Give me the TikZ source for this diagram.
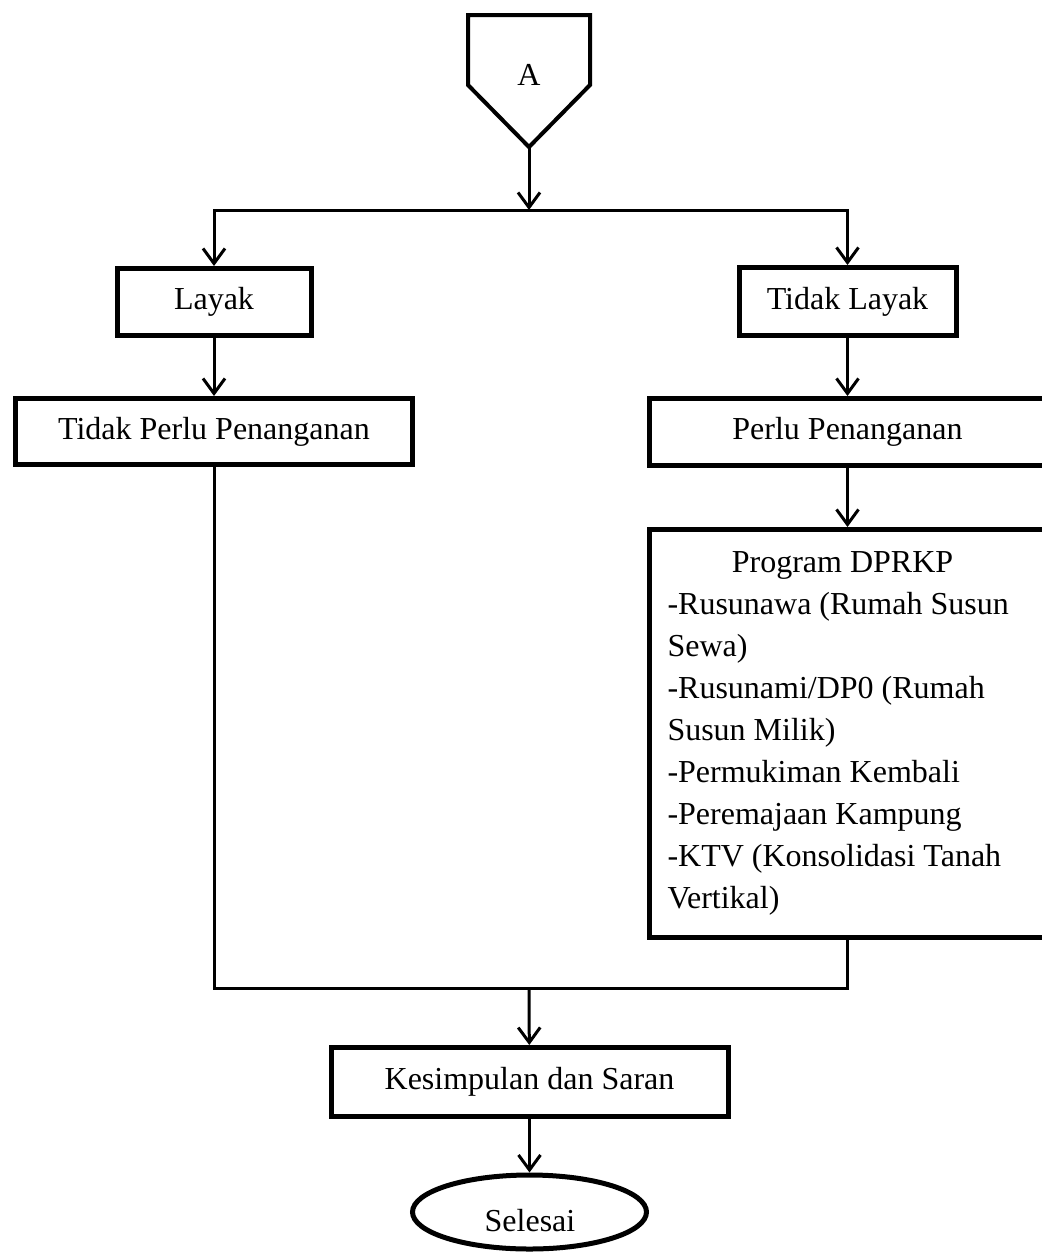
\documentclass[tikz,border=0pt]{standalone}
\usepackage{fontspec}
\setmainfont{Liberation Serif}
\usetikzlibrary{arrows.meta,shapes.geometric}
\begin{document}
\begin{tikzpicture}[x=0.5pt,y=-0.5pt,
  txt/.style={font=\fontsize{16}{21}\selectfont},
  box/.style={draw,line width=2.5pt,rectangle,inner sep=0pt,txt},
  conn/.style={line width=1.5pt},
  arr/.style={conn,-{Straight Barb[length=7.5pt,width=11pt]}},
  term/.style={draw,line width=2.5pt,ellipse,inner sep=0pt,txt}]
\fill[white] (0,0) rectangle (1041,1254);
\useasboundingbox (0,0) rectangle (1041,1254);
% off-page connector A
\draw[line width=2pt] (468,15) -- (590,15) -- (590,85) -- (529,147) -- (468,85) -- cycle;
\node[txt] (A) at (529,75) {A};
\coordinate (Atip) at (529,148);
\coordinate (j1) at (529,210);
\coordinate (j2) at (529,988);
% boxes
\node[box,minimum width=97pt,minimum height=33.5pt] (layak) at (214,302) {Layak};
\node[box,minimum width=108.5pt,minimum height=34pt] (tlayak) at (847.5,301.5) {Tidak Layak};
\node[box,minimum width=198.5pt,minimum height=33pt] (tpp) at (214,431.5) {Tidak Perlu Penanganan};
\node[box,minimum width=198.5pt,minimum height=33.5pt] (pp) at (847.5,432) {Perlu Penanganan};
\node[box,minimum width=198.5pt,minimum height=204pt,text width=180pt,align=flush left] (prog) at (847.5,733.5)
  {\makebox[175pt][c]{Program DPRKP}\\
   -Rusunawa (Rumah Susun\\
   Sewa)\\
   -Rusunami/DP0 (Rumah\\
   Susun Milik)\\
   -Permukiman Kembali\\
   -Peremajaan Kampung\\
   -KTV (Konsolidasi Tanah\\
   Vertikal)};
\node[box,minimum width=198.5pt,minimum height=34.5pt] (kes) at (529.5,1082) {Kesimpulan dan Saran};
\node[term,minimum width=117pt,minimum height=37pt] (sel) at (529.5,1212) {};
\node[txt] at (530,1221) {Selesai};
% connectors
\draw[arr] (Atip) -- (j1);
\draw[arr] (j1) -| (layak);
\draw[arr] (j1) -| (tlayak);
\draw[arr] (layak) -- (tpp);
\draw[arr] (tlayak) -- (pp);
\draw[arr] (pp) -- (prog);
\draw[conn] (tpp) |- (j2) -| (prog);
\draw[arr] (j2) -- (kes);
\draw[arr] (kes) -- (sel);
\end{tikzpicture}
\end{document}
